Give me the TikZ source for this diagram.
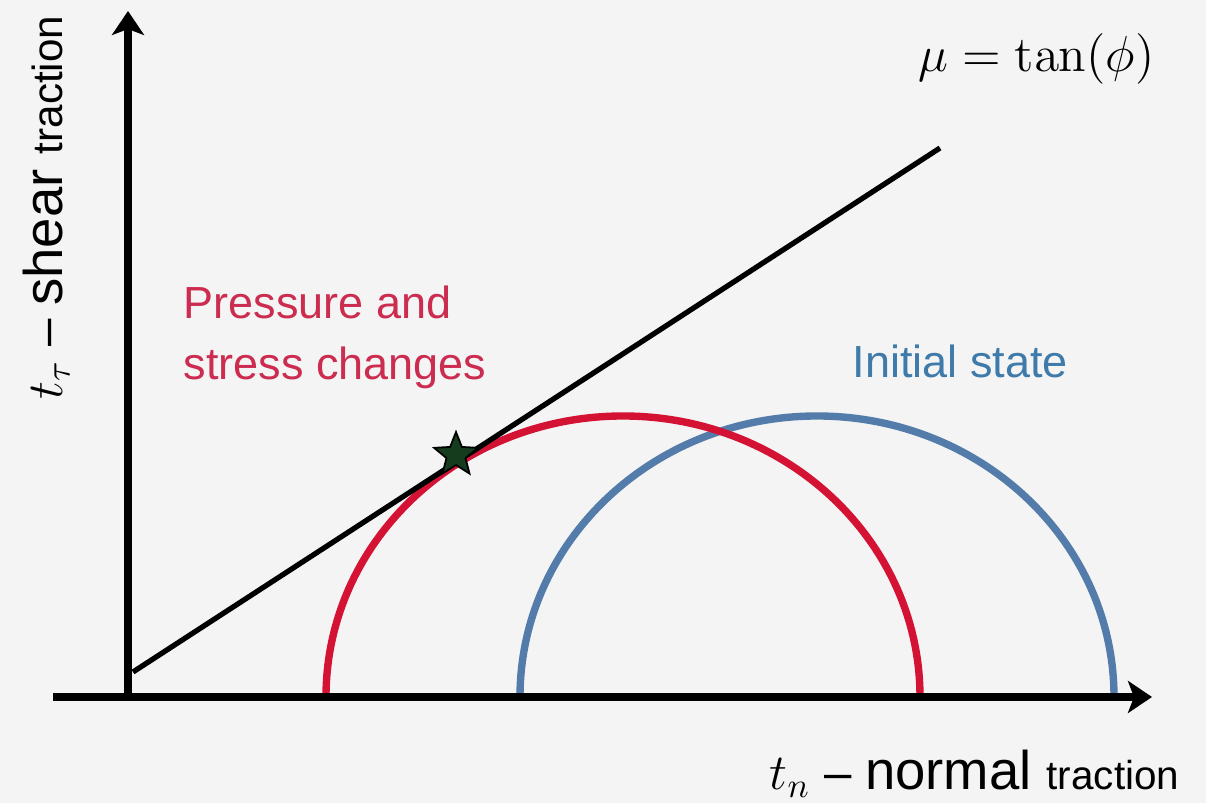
\documentclass[tikz,border=0pt]{standalone}
\usepackage[no-math]{fontspec}
\setsansfont{Liberation Sans}
\usepackage{amsmath}
\usepackage{xcolor}
\usepackage{tikz}
\usetikzlibrary{shapes.geometric, arrows.meta, positioning}
\definecolor{bggray}{RGB}{244,244,244}
\definecolor{arcred}{RGB}{212,18,52}
\definecolor{txtred}{RGB}{204,44,80}
\definecolor{arcblue}{RGB}{84,124,170}
\definecolor{txtblue}{RGB}{62,122,170}
\definecolor{stargreen}{RGB}{22,60,30}
\tikzset{
  axis/.style={line width=2.1pt, -{Stealth[length=0.24cm, width=0.32cm, inset=0.06cm]}},
  envelope/.style={line width=1.5pt, black},
  mohr/.style={line width=2.1pt},
  lbl/.style={inner sep=0pt, font=\sffamily},
}
\begin{document}
\begin{tikzpicture}
  \fill[bggray] (0,0) rectangle (12.06,8.03);
  \useasboundingbox (0,0) rectangle (12.06,8.03);

  %% === Reference points ===
  \coordinate (orig)   at (1.28,1.06);
  \coordinate (xstart) at (0.53,1.06);
  \coordinate (xend)   at (11.52,1.06);
  \coordinate (yend)   at (1.28,7.92);
  \coordinate (fstart) at (1.33,1.31);
  \coordinate (fend)   at (9.40,6.55);
  \coordinate (redl)   at (3.26,1.06);
  \coordinate (bluel)  at (5.20,1.06);

  %% === Mohr circles ===
  \draw[mohr, arcblue] (bluel) arc[start angle=180, end angle=0, x radius=2.97, y radius=2.81];
  \draw[mohr, arcred]  (redl)  arc[start angle=180, end angle=0, x radius=2.97, y radius=2.81];

  %% === Failure envelope ===
  \draw[envelope] (fstart) -- (fend);

  %% === Axes ===
  \draw[axis] (xstart) -- (xend);
  \draw[axis] (orig)   -- (yend);

  %% Contact point
  \node[star, star points=5, star point ratio=2.3, minimum size=0.46cm, inner sep=0pt,
        fill=stargreen, draw=black, line width=0.5pt] (touch) at (4.56,3.48) {};

  %% === Labels ===
  \node[lbl, anchor=base east] (mu) at (11.55,7.31)
        {\fontsize{14.5}{17}\selectfont $\mu = \tan(\phi)$};
  \node[lbl, anchor=north west, align=left, text=txtred,
        font=\sffamily\fontsize{12.8}{17.4}\selectfont] (press) at (1.83,5.18)
        {Pressure and\\stress changes};
  \node[lbl, anchor=base west, text=txtblue,
        font=\sffamily\fontsize{12.8}{15}\selectfont] (init) at (8.52,4.25) {Initial state};
  \node[lbl, anchor=base east] (xlab) at (11.80,0.13)
        {\fontsize{14}{17}\selectfont $t_n$ -- \fontsize{15.5}{18}\selectfont normal
         \fontsize{11.5}{13}\selectfont traction};
  \node[lbl, anchor=base west, rotate=90] (ylab) at (0.62,4.03)
        {\fontsize{14}{17}\selectfont $t_\tau$ -- \fontsize{15.5}{18}\selectfont shear
         \fontsize{12}{14}\selectfont traction};
\end{tikzpicture}
\end{document}
